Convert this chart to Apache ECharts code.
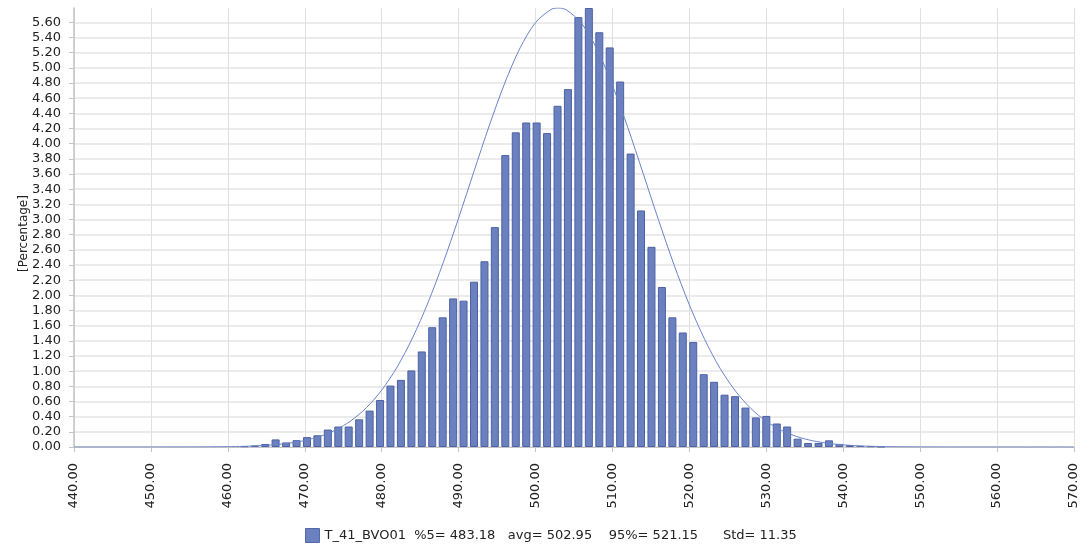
<!DOCTYPE html>
<html>
<head>
<meta charset="utf-8">
<script src="https://cdn.jsdelivr.net/npm/echarts@6/dist/echarts.min.js"></script>
<style>
  html, body { margin: 0; padding: 0; background: #ffffff; }
  #chart { width: 1092px; height: 552px; }
</style>
</head>
<body>
<div id="chart"></div>
<script>
// Histogram bin centers (value axis) and percentages
const binCenters = [462.14, 463.50, 464.86, 466.21, 467.57, 468.93, 470.29, 471.64, 473.00, 474.36,
  475.71, 477.07, 478.43, 479.79, 481.14, 482.50, 483.86, 485.21, 486.57, 487.93,
  489.29, 490.64, 492.00, 493.36, 494.71, 496.07, 497.43, 498.79, 500.14, 501.50,
  502.86, 504.21, 505.57, 506.93, 508.29, 509.64, 511.00, 512.36, 513.71, 515.07,
  516.43, 517.79, 519.14, 520.50, 521.86, 523.21, 524.57, 525.93, 527.29, 528.64,
  530.00, 531.36, 532.71, 534.07, 535.43, 536.79, 538.14, 539.50, 540.86, 542.21,
  543.57, 544.93];
const percentages = [0.01, 0.02, 0.04, 0.10, 0.06, 0.09, 0.13, 0.155, 0.23, 0.27,
  0.27, 0.365, 0.48, 0.62, 0.81, 0.885, 1.01, 1.26, 1.58, 1.71,
  1.96, 1.93, 2.18, 2.45, 2.90, 3.85, 4.15, 4.28, 4.28, 4.14,
  4.50, 4.72, 5.67, 5.79, 5.47, 5.27, 4.82, 3.87, 3.12, 2.64,
  2.11, 1.71, 1.51, 1.385, 0.96, 0.86, 0.69, 0.67, 0.52, 0.39,
  0.41, 0.31, 0.27, 0.11, 0.053, 0.053, 0.088, 0.04, 0.026, 0.015,
  0.01, 0.005];

// Fitted normal curve
const curveX = [440, 450, 456, 458, 460, 462, 464, 466, 468, 470, 472, 474, 476, 478, 480,
  482, 484, 486, 488, 490, 492, 494, 496, 498, 500, 502, 503, 504, 506, 508, 510,
  512, 514, 516, 518, 520, 522, 524, 526, 528, 530, 532, 534, 536, 538, 540, 542,
  544, 546, 550, 560, 570];
const curveY = [0, 0.0001, 0.0011, 0.0023, 0.0045, 0.0086, 0.016, 0.029, 0.051, 0.086, 0.141, 0.224, 0.346, 0.517, 0.750,
  1.054, 1.437, 1.899, 2.432, 3.02, 3.636, 4.243, 4.80, 5.265, 5.598, 5.770, 5.79, 5.765, 5.585, 5.244, 4.77,
  4.213, 3.605, 2.99, 2.404, 1.874, 1.416, 1.036, 0.737, 0.507, 0.338, 0.219, 0.137, 0.083, 0.049, 0.028, 0.0156,
  0.0084, 0.0044, 0.001, 0, 0];

// Axis settings / labels
const xMin = 440, xMax = 570, xStep = 10;
const yMin = 0, yMax = 5.79, yStep = 0.2;
const yAxisTitle = '[Percentage]';
const seriesLabel = 'T_41_BVO01';
const statP5 = '483.18', statAvg = '502.95', statP95 = '521.15', statStd = '11.35';
const legendName = seriesLabel + '  %5= ' + statP5 + '   avg= ' + statAvg + '    95%= ' + statP95 + '      Std= ' + statStd;

const font = 'DejaVu Sans';
const chart = echarts.init(document.getElementById('chart'), null, { renderer: 'canvas' });

chart.setOption({
  animation: false,
  backgroundColor: '#ffffff',
  grid: { left: 74, right: 18, top: 8, bottom: 105, containLabel: false },
  legend: {
    data: [{ name: legendName, icon: 'rect' }],
    left: 300,
    bottom: 4,
    itemWidth: 14,
    itemHeight: 14,
    itemGap: 6,
    itemStyle: { color: '#6b81bf', borderColor: '#5569a8', borderWidth: 1 },
    textStyle: { fontFamily: font, fontSize: 13, color: '#222' }
  },
  xAxis: {
    type: 'value',
    min: xMin, max: xMax, interval: xStep,
    axisLine: { show: true, lineStyle: { color: '#c4c4c4', width: 1 } },
    axisTick: { show: true, length: 5, lineStyle: { color: '#c4c4c4' } },
    axisLabel: {
      rotate: 90, margin: 16,
      fontFamily: font, fontSize: 13, color: '#222',
      formatter: v => v.toFixed(2)
    },
    splitLine: { show: true, lineStyle: { color: '#e0e0e0', width: 1 } }
  },
  yAxis: {
    type: 'value',
    min: yMin, max: yMax, interval: yStep,
    name: yAxisTitle,
    nameLocation: 'middle',
    nameGap: 44,
    nameMoveOverlap: false,
    nameTextStyle: { fontFamily: font, fontSize: 12, color: '#222', padding: [0, 12, 0, 0] },
    axisLine: { show: true, lineStyle: { color: '#c4c4c4', width: 1.5 } },
    axisTick: { show: true, length: 5, lineStyle: { color: '#c4c4c4' } },
    axisLabel: {
      margin: 13, showMaxLabel: false,
      fontFamily: font, fontSize: 13, color: '#222',
      formatter: v => v.toFixed(2)
    },
    splitLine: { show: true, showMaxLine: false, lineStyle: { color: '#e4e4e4', width: 1.5 } }
  },
  series: [
    {
      name: legendName,
      type: 'bar',
      barWidth: 8,
      data: binCenters.map((c, i) => [c, percentages[i]]),
      itemStyle: { color: '#6b81bf', borderColor: '#4c61a3', borderWidth: 1 },
      z: 2
    },
    {
      name: 'normal',
      type: 'line',
      smooth: 0.3,
      showSymbol: false,
      symbol: 'none',
      data: curveX.map((c, i) => [c, curveY[i]]),
      lineStyle: { color: '#6a82c8', width: 1 },
      z: 3
    }
  ]
});
</script>
</body>
</html>
